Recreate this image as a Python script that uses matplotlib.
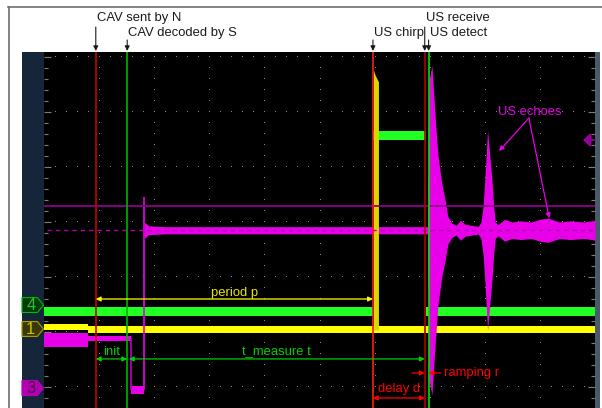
import numpy as np
import matplotlib
matplotlib.use("Agg")
import matplotlib.pyplot as plt
from matplotlib.patches import Polygon, Rectangle
from matplotlib.lines import Line2D
from matplotlib.ticker import MultipleLocator

plt.rcParams['font.family'] = ['Liberation Sans', 'DejaVu Sans']

# all values in screen divisions (10 horizontal, 0 = centre line vertically)
# event times
cav_sent = 0.94
cav_decoded = 1.51
ch3_fall = 1.57
ch3_rise = 1.82
chirp = 5.97
us_receive = 6.91
us_detect = 6.98

# channel 4 (green) : step edges and levels
ch4_edges = [0.0, 5.98, 6.93, 10.0]
ch4_levels = [-0.63, 2.58, -0.63]
ch4_half = 0.08

# channel 1 (yellow)
ch1_edges = [0.0, 0.80, 10.0]
ch1_levels = [-0.91, -0.96]
ch1_half = 0.06
pulse_x = [5.98, 6.01, 6.07]
pulse_top = [3.76, 3.67, 3.55]

# channel 3 (magenta) before the rise
ch3_edges = [0.0, 0.80, ch3_fall, ch3_rise]
ch3_levels = [-1.145, -1.115, -2.055]
ch3_halves = [0.127, 0.05, 0.065]
ch3_spike = 1.455
ch3_base = 0.85

# channel 3 envelope after the rise (half amplitude around ch3_base)
mag_x = [1.82, 1.90, 2.2, 6.96, 6.975, 6.99, 7.04, 7.10, 7.15, 7.22, 7.28, 7.33, 7.40, 7.48,
         7.56, 7.64, 7.75, 7.88, 7.93, 7.97, 8.00, 8.05, 8.09, 8.13, 8.16, 8.19, 8.24,
         8.36, 8.49, 8.65, 8.85, 9.00, 9.15, 9.35, 9.55, 9.80, 10.0]
mag_amp = [0.15, 0.08, 0.065, 0.065, 1.8, 2.73, 3.0, 2.05, 1.36, 0.85, 0.55, 0.25, 0.13, 0.09,
           0.18, 0.11, 0.09, 0.07, 0.15, 0.45, 0.91, 1.82, 1.36, 0.91, 0.45, 0.15, 0.10,
           0.20, 0.15, 0.17, 0.15, 0.20, 0.22, 0.15, 0.17, 0.15, 0.18]

trig_level = 1.29
ref_level = 0.855
trig_pos = 2.49

# channel markers on the left strip
marker_labels = ['4', '1', '3']
marker_levels = [-0.51, -0.945, -2.02]
marker_face = ['#003a08', '#3a3a00', '#b000b0']
marker_edge = ['#00c000', '#b0a000', '#c000c0']
marker_text = ['#30c030', '#d0c000', '#500050']

YEL = '#ffff00'
GRN = '#22ff22'
MAG = '#e800e8'

fig = plt.figure(figsize=(6.02, 4.08), dpi=100)
fig.patch.set_facecolor('white')
W, H = 602.0, 408.0

# frame and side strips
fig.add_artist(Line2D([8 / W, 1], [1 - 7 / H] * 2, color='#6e6e6e', lw=1.2, zorder=-1))
fig.add_artist(Line2D([9 / W] * 2, [0, 1 - 7 / H], color='#6e6e6e', lw=1.2, zorder=-1))
fig.add_artist(Rectangle((22 / W, 0), 22 / W, 356 / H, color='#15263a', lw=0, zorder=-1))
fig.add_artist(Rectangle((595 / W, 0), 5 / W, 356 / H, color='#4a5a6c', lw=0, zorder=-1))

ax = fig.add_axes([44 / W, 0, 551 / W, 356 / H])
ax.set_facecolor('black')
ax.set_xlim(0, 10)
ax.set_ylim(-2.382, 4.091)
for s in ax.spines.values():
    s.set_visible(False)
ax.set_xticks([])
ax.yaxis.set_major_locator(MultipleLocator(1))
ax.yaxis.set_minor_locator(MultipleLocator(0.2))
ax.tick_params(axis='y', which='both', direction='in', left=True, right=True,
               labelleft=False, color='#80806a', width=0.8)
ax.tick_params(axis='y', which='major', length=5)
ax.tick_params(axis='y', which='minor', length=3)

# graticule dots
for gx in range(1, 10):
    yy = np.arange(-2.4, 4.01, 0.2)
    ax.plot([gx] * len(yy), yy, ',', color='#8a8a6a', zorder=1)
for gy in range(-2, 5):
    xx = np.arange(0.2, 10, 0.2)
    ax.plot(xx, [gy] * len(xx), ',', color='#8a8a6a', zorder=1)

# channel 4
for i, lv in enumerate(ch4_levels):
    ax.fill_between(ch4_edges[i:i + 2], lv - ch4_half, lv + ch4_half, color=GRN, lw=0, zorder=3)

# channel 1
for i, lv in enumerate(ch1_levels):
    ax.fill_between(ch1_edges[i:i + 2], lv - ch1_half, lv + ch1_half, color=YEL, lw=0, zorder=4)
ax.fill_between(pulse_x, ch1_levels[-1], pulse_top, color='#d8d800', lw=0, zorder=5.2)

# channel 3
for i, lv in enumerate(ch3_levels):
    ax.fill_between(ch3_edges[i:i + 2], lv - ch3_halves[i], lv + ch3_halves[i],
                    color=MAG, lw=0, zorder=5)
ax.vlines(ch3_fall, ch3_levels[2], ch3_levels[1], color='#c000c0', lw=1.2, zorder=5)
ax.vlines(ch3_rise, ch3_levels[2], ch3_spike, color=MAG, lw=1.2, zorder=5)
mx = np.array(mag_x)
ma = np.array(mag_amp)
ax.fill_between(mx, ch3_base - ma, ch3_base + ma, color=MAG, lw=0, zorder=5)

ax.axhline(trig_level, color='#8c008c', lw=1.3, zorder=5.5)
ax.plot([0.05, 10], [ref_level] * 2, color='#b000b0', lw=1, dashes=(3, 3), zorder=5.5)
ax.add_patch(Polygon([[9.80, trig_pos], [9.92, trig_pos + 0.11], [9.92, trig_pos - 0.11]],
                     closed=True, color='#9a009a', zorder=6, clip_on=False))
ax.plot([9.92, 10.0], [trig_pos] * 2, color='#9a009a', lw=1.2, zorder=6, clip_on=False)

# event lines
ev_lines = [(cav_sent, '#c80000'), (cav_decoded, '#00b400'), (chirp, '#ff1a1a'),
            (us_receive, '#b00000'), (us_detect, '#00e000')]
for xv, c in ev_lines:
    ax.axvline(xv, color=c, lw=1.2, zorder=6)

# channel markers
for lab, lv, fc, ec, tc in zip(marker_labels, marker_levels, marker_face, marker_edge, marker_text):
    ax.add_patch(Polygon([[-0.40, lv + 0.135], [-0.12, lv + 0.135], [-0.01, lv],
                          [-0.12, lv - 0.135], [-0.40, lv - 0.135]], closed=True,
                         facecolor=fc, edgecolor=ec, lw=0.8, clip_on=False, zorder=7))
    ax.text(-0.24, lv - 0.01, lab, color=tc, fontsize=12, ha='center', va='center',
            clip_on=False, zorder=8)

# labels above the screen
fs = 9.4
top_labels = [('CAV sent by N', cav_sent, 4.71, 4.545),
              ('CAV decoded by S', cav_decoded, 4.44, 4.31),
              ('US chirp', chirp, 4.44, 4.31),
              ('US receive', us_receive, 4.71, 4.545),
              ('US detect', us_detect, 4.44, 4.31)]
for txt, xv, ty, ay in top_labels:
    ax.text(xv + 0.02, ty, txt, color='#1a1a1a', fontsize=fs, ha='left', va='center',
            clip_on=False)
    ax.annotate('', xy=(xv, 4.11), xytext=(xv, ay), annotation_clip=False,
                arrowprops=dict(arrowstyle='-|>', color='#1a1a1a', lw=0.8,
                                mutation_scale=7, shrinkA=0, shrinkB=0))


def span(x0, x1, y, color):
    ax.annotate('', xy=(x1, y), xytext=(x0, y), zorder=8,
                arrowprops=dict(arrowstyle='<|-|>', color=color, lw=0.9,
                                mutation_scale=7, shrinkA=0, shrinkB=0))


span(cav_sent, chirp, -0.40, YEL)
ax.text((cav_sent + chirp) / 2, -0.285, 'period p', color='#e8e800', fontsize=fs,
        ha='center', va='center', zorder=8)
span(cav_sent, cav_decoded, -1.49, '#00d000')
ax.text((cav_sent + cav_decoded) / 2, -1.36, 'init', color='#00d000', fontsize=fs,
        ha='center', va='center', zorder=8)
span(cav_decoded + 0.03, us_receive, -1.49, '#00d000')
ax.text((cav_decoded + us_receive) / 2, -1.36, 't_measure t', color='#00d000', fontsize=fs,
        ha='center', va='center', zorder=8)
span(chirp, us_receive, -2.2, '#ff0000')
ax.text((chirp + us_receive) / 2, -2.04, 'delay d', color='#ff0000', fontsize=fs,
        ha='center', va='center', zorder=8)
for x0, x1 in [(us_receive - 0.23, us_receive), (us_detect + 0.22, us_detect)]:
    ax.annotate('', xy=(x1, -1.745), xytext=(x0, -1.745), zorder=8,
                arrowprops=dict(arrowstyle='-|>', color='#ff0000', lw=0.9,
                                mutation_scale=7, shrinkA=0, shrinkB=0))
ax.text(us_detect + 0.28, -1.745, 'ramping r', color='#ff0000', fontsize=fs,
        ha='left', va='center', zorder=8)

ax.text(8.82, 3.0, 'US echoes', color=MAG, fontsize=fs, ha='center', va='center', zorder=8)
for tx, ty in [(8.26, 2.29), (9.17, 1.07)]:
    ax.annotate('', xy=(tx, ty), xytext=(8.80, 2.89), zorder=8,
                arrowprops=dict(arrowstyle='-|>', color=MAG, lw=0.9,
                                mutation_scale=7, shrinkA=0, shrinkB=0))

fig.savefig('out.png', dpi=100)
